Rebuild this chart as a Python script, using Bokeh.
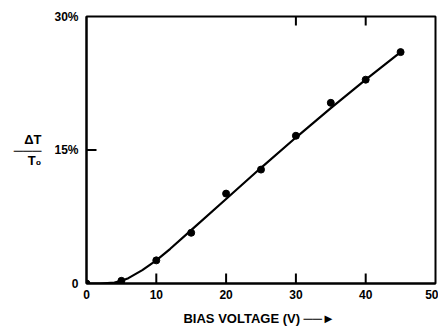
import math
from bokeh.plotting import figure
from bokeh.models import Range1d, FixedTicker
from bokeh.embed import file_html
from bokeh.resources import INLINE

# measured points
volts = [0, 5, 10, 15, 20, 25, 30, 35, 40, 45]
dT = [0.0, 0.3, 2.6, 5.7, 10.1, 12.8, 16.6, 20.3, 22.9, 26.0]
# drawn smooth curve
curve_x = [0, 2, 4, 5, 6, 8, 10, 12, 15, 20, 25, 30, 35, 40, 45]
curve_y = [0.0, 0.0, 0.1, 0.3, 0.6, 1.5, 2.6, 3.9, 6.0, 9.5, 13.0, 16.4, 19.7, 22.9, 26.0]
x_ticks = [0, 10, 20, 30, 40, 50]
bottom_tick_marks = [10, 20, 30, 40]
top_tick_marks = [30, 40]
y_ticks = [0, 15, 30]
left_tick_marks = [15]
y_tick_labels = {0: "0", 15: "15%", 30: "30%"}
x_title = "BIAS VOLTAGE (V)  ──►"
y_title = "ΔT\n───\nT₀"

FONT = "Liberation Sans"
X0, X1, Y0, Y1 = 0, 50, 0, 30

p = figure(width=438, height=326, output_backend="svg", toolbar_location=None,
           x_range=Range1d(X0, X1), y_range=Range1d(Y0, Y1),
           min_border_left=86, min_border_right=3, min_border_top=16, min_border_bottom=43)
p.frame_width = 349
p.frame_height = 267
p.grid.visible = False
p.outline_line_color = "black"
p.outline_line_width = 2
p.background_fill_color = "white"
p.border_fill_color = "white"

for ax in (p.xaxis[0], p.yaxis[0]):
    ax.axis_line_color = "black"
    ax.axis_line_width = 2
    ax.major_tick_in = 0
    ax.major_tick_out = 0
    ax.minor_tick_line_color = None
    ax.major_label_text_font = FONT
    ax.major_label_text_font_style = "bold"
    ax.major_label_text_font_size = "12px"
    ax.major_label_text_color = "black"
    ax.axis_label_text_font = FONT
    ax.axis_label_text_font_style = "bold"
    ax.axis_label_text_color = "black"

p.xaxis.ticker = FixedTicker(ticks=x_ticks)
p.xaxis.major_label_standoff = 6
p.xaxis.axis_label = x_title
p.xaxis.axis_label_text_font_size = "13px"
p.xaxis.axis_label_standoff = 9

p.yaxis.ticker = FixedTicker(ticks=y_ticks)
p.yaxis.major_label_overrides = y_tick_labels
p.yaxis.major_label_standoff = 8
p.yaxis.axis_label = y_title
p.yaxis.axis_label_text_font_size = "13px"
p.yaxis.axis_label_orientation = "horizontal"
p.yaxis.axis_label_standoff = 10
p.yaxis.axis_label_text_line_height = 0.72

# inward tick marks along the frame edges (dash markers centred on the edge,
# the outer half is clipped by the frame)
n_b, n_t, n_l = len(bottom_tick_marks), len(top_tick_marks), len(left_tick_marks)
p.scatter(x=bottom_tick_marks, y=[Y0] * n_b, marker="dash", size=20, angle=math.pi / 2,
          line_color="black", line_width=2)
p.scatter(x=top_tick_marks, y=[Y1] * n_t, marker="dash", size=18, angle=math.pi / 2,
          line_color="black", line_width=2)
p.scatter(x=[X0] * n_l, y=left_tick_marks, marker="dash", size=20,
          line_color="black", line_width=2)

p.line(curve_x, curve_y, line_color="black", line_width=2.2)
p.scatter(volts, dT, size=7, color="black")

open("out.html", "w").write(file_html(p, INLINE))
